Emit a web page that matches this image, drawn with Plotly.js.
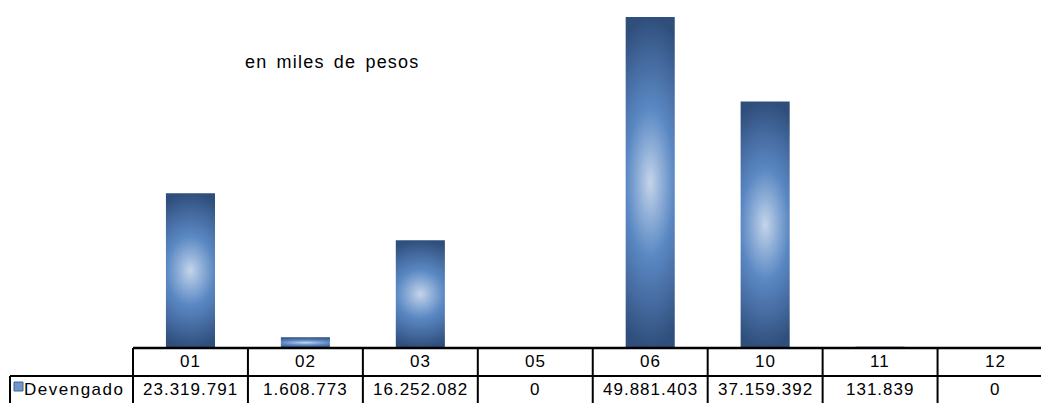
<!DOCTYPE html>
<html>
<head>
<meta charset="utf-8">
<script src="https://cdn.plot.ly/plotly-3.0.1.min.js"></script>
<style>
  html, body { margin: 0; padding: 0; background: #ffffff; }
  #chart { width: 1041px; height: 403px; }
</style>
</head>
<body>
<div id="chart"></div>
<script>
// ---- data ----
const categories = ["01", "02", "03", "05", "06", "10", "11", "12"];
const devengado = [23319791, 1608773, 16252082, 0, 49881403, 37159392, 131839, 0];
const valueLabels = ["23.319.791", "1.608.773", "16.252.082", "0", "49.881.403", "37.159.392", "131.839", "0"];
const seriesName = "Devengado";
const subtitle = "en miles de pesos";

// ---- geometry helpers (pixel layout of the page) ----
const W = 1041, H = 403;
const M = { l: 133, r: 0, t: 0, b: 55 };
const plotW = W - M.l - M.r, plotH = H - M.t - M.b;
const xr = [-0.5, 7.4];
const px2paperX = px => (px - M.l) / plotW;
const py2paperY = py => (H - M.b - py) / plotH;
const ax2paperX = v => (v - xr[0]) / (xr[1] - xr[0]);

const fontFam = "Liberation Sans, Arial, sans-serif";
const lineCol = "#000000";
const spaced = (t, ls, ws) => `<span style="letter-spacing:${ls}px;word-spacing:${ws || 0}px">${t}</span>`;

const shapes = [];
const annotations = [];
const yTop = py2paperY(348), yMid = py2paperY(376), yBot = py2paperY(404);

// top border of table
shapes.push({ type: "line", xref: "paper", yref: "paper", x0: 0, x1: 1.01, y0: yTop, y1: yTop, line: { color: lineCol, width: 2.5 } });
// row divider
shapes.push({ type: "line", xref: "paper", yref: "paper", x0: px2paperX(10), x1: 1.01, y0: yMid, y1: yMid, line: { color: lineCol, width: 2 } });
// bottom border (just below the visible area)
shapes.push({ type: "line", xref: "paper", yref: "paper", x0: px2paperX(10), x1: 1.01, y0: yBot, y1: yBot, line: { color: lineCol, width: 2 } });
// left cell border
shapes.push({ type: "line", xref: "paper", yref: "paper", x0: px2paperX(10), x1: px2paperX(10), y0: yMid, y1: yBot, line: { color: lineCol, width: 2 } });
// column boundaries
for (let k = 0; k <= categories.length; k++) {
  const xp = ax2paperX(k - 0.5);
  if (xp > 1.001) continue;
  shapes.push({ type: "line", xref: "paper", yref: "paper", x0: xp, x1: xp, y0: yTop, y1: yBot, line: { color: lineCol, width: 2 } });
}
// legend key square
shapes.push({ type: "rect", xref: "paper", yref: "paper",
  x0: px2paperX(14), x1: px2paperX(23), y0: py2paperY(391), y1: py2paperY(382),
  fillcolor: "#6f97ca", line: { color: "#3d6496", width: 1 } });

// table text
categories.forEach((c, i) => {
  annotations.push({ x: i, xref: "x", y: py2paperY(362), yref: "paper", text: spaced(c, 1), showarrow: false,
    xanchor: "center", yanchor: "middle", font: { family: fontFam, size: 17, color: "#000" } });
  annotations.push({ x: i, xref: "x", y: py2paperY(390), yref: "paper", text: spaced(valueLabels[i], 1), showarrow: false,
    xanchor: "center", yanchor: "middle", font: { family: fontFam, size: 17, color: "#000" } });
});
annotations.push({ x: px2paperX(25), xref: "paper", y: py2paperY(390), yref: "paper", text: spaced(seriesName, 1.5), showarrow: false,
  xanchor: "left", yanchor: "middle", xshift: -3, font: { family: fontFam, size: 17, color: "#000" } });
annotations.push({ x: px2paperX(332), xref: "paper", y: py2paperY(62), yref: "paper", text: spaced(subtitle, 1.2, 3), showarrow: false,
  xanchor: "center", yanchor: "middle", font: { family: fontFam, size: 18, color: "#000" } });

const trace = {
  type: "bar",
  x: categories,
  y: devengado,
  name: seriesName,
  marker: { color: "#5584c0", line: { width: [0, 0, 0, 0, 0, 0, 1, 0], color: "#4d78b2" } },
  hoverinfo: "x+y"
};

const layout = {
  width: W, height: H,
  margin: M,
  paper_bgcolor: "#ffffff",
  plot_bgcolor: "#ffffff",
  showlegend: false,
  bargap: 0.573,
  xaxis: { type: "category", range: xr, showticklabels: false, showgrid: false, zeroline: false, showline: false, ticks: "", fixedrange: true },
  yaxis: { range: [0, 52.45e6], visible: false, showgrid: false, zeroline: false, fixedrange: true },
  shapes: shapes,
  annotations: annotations,
  font: { family: fontFam }
};

Plotly.newPlot("chart", [trace], layout, { displayModeBar: false, staticPlot: true }).then(gd => {
  // radial (from-centre) gradient fill on the bars, as in the original
  const svg = gd.querySelector("svg.main-svg");
  const ns = "http://www.w3.org/2000/svg";
  let defs = svg.querySelector("defs");
  if (!defs) { defs = document.createElementNS(ns, "defs"); svg.insertBefore(defs, svg.firstChild); }
  const g = document.createElementNS(ns, "radialGradient");
  g.setAttribute("id", "barGrad");
  g.setAttribute("cx", "0.5"); g.setAttribute("cy", "0.5"); g.setAttribute("r", "0.5");
  g.setAttribute("gradientTransform", "translate(0.5,0.5) scale(2.2,1) translate(-0.5,-0.5)");
  [["0", "#c5d5ea"], ["0.22", "#8eaed7"], ["0.45", "#5a88c3"], ["0.75", "#44699e"], ["1", "#2f4e7b"]].forEach(([o, c]) => {
    const s = document.createElementNS(ns, "stop");
    s.setAttribute("offset", o); s.setAttribute("stop-color", c);
    g.appendChild(s);
  });
  defs.appendChild(g);
  gd.querySelectorAll(".bars .point path").forEach(p => { p.style.fill = "url(#barGrad)"; });
});
</script>
</body>
</html>
